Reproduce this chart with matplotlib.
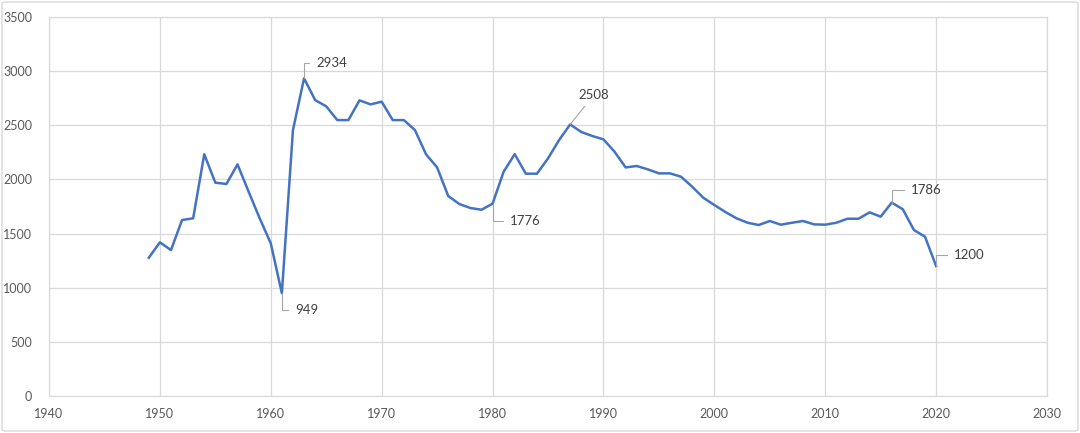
import matplotlib
matplotlib.use("Agg")
import matplotlib.pyplot as plt
from matplotlib.patches import FancyBboxPatch

years = list(range(1949, 2021))
values = [1277, 1419, 1348, 1625, 1641, 2232, 1970, 1958, 2139, 1887,
          1641, 1410, 949, 2456, 2934, 2733, 2675, 2548, 2548, 2730,
          2693, 2718, 2548, 2548, 2456, 2232, 2111, 1847, 1773, 1736,
          1720, 1776, 2071, 2233, 2053, 2053, 2194, 2364, 2508, 2438,
          2401, 2370, 2256, 2111, 2124, 2093, 2056, 2056, 2025, 1933,
          1831, 1764, 1699, 1641, 1600, 1579, 1616, 1582, 1600, 1616,
          1585, 1582, 1600, 1637, 1637, 1696, 1656, 1786, 1724, 1533,
          1471, 1200]

x_ticks = list(range(1940, 2031, 10))
y_ticks = list(range(0, 3501, 500))

# labelled points: year -> offset of text (pixels), style
label_years = [1961, 1963, 1980, 1987, 2016, 2020]
label_offsets = {1961: (13, -17), 1963: (12, 15), 1980: (17, -17),
                 1987: (8, 23), 2016: (19, 13), 2020: (18, 11)}

plt.rcParams['font.family'] = ['Lato', 'DejaVu Sans']

fig = plt.figure(figsize=(10.8, 4.33), dpi=100)
ax = fig.add_axes([49/1080, 1 - 396/433, (1047-49)/1080, (396-17)/433])

grid_c = '#D9D9D9'
ax.plot(years, values, color='#4472C4', lw=1.8, solid_joinstyle='round', zorder=3)
ax.set_xlim(1940, 2030)
ax.set_ylim(0, 3500)
ax.set_xticks(x_ticks)
ax.set_yticks(y_ticks)
ax.grid(True, color=grid_c, lw=0.9)
ax.set_axisbelow(True)
for s in ax.spines.values():
    s.set_color(grid_c)
    s.set_linewidth(0.9)
ax.tick_params(length=0, labelsize=9, labelcolor='#595959')
ax.tick_params(axis='x', pad=9)
ax.tick_params(axis='y', pad=12)

for yr in label_years:
    v = values[years.index(yr)]
    dx, dy = label_offsets[yr]
    if yr == 1987:
        ax.annotate(str(v), xy=(yr, v), xytext=(dx, dy), textcoords='offset pixels',
                    ha='left', va='bottom', fontsize=9.5, color='#404040',
                    arrowprops=dict(arrowstyle='-', color='#A6A6A6', lw=0.8,
                                    shrinkA=2, shrinkB=0))
    else:
        ax.annotate(str(v), xy=(yr, v), xytext=(dx, dy), textcoords='offset pixels',
                    ha='left', va='center', fontsize=9.5, color='#404040',
                    arrowprops=dict(arrowstyle='-', color='#A6A6A6', lw=0.8,
                                    shrinkA=3, shrinkB=0,
                                    connectionstyle='angle,angleA=0,angleB=90,rad=0'))

border = FancyBboxPatch((2/1080, 2/433), 1 - 4/1080, 1 - 4/433,
                        boxstyle='round,pad=0,rounding_size=0.004',
                        transform=fig.transFigure, fill=False,
                        edgecolor='#D9D9D9', lw=1.0)
fig.patches.append(border)

fig.savefig('out.png', dpi=100, facecolor='white')
